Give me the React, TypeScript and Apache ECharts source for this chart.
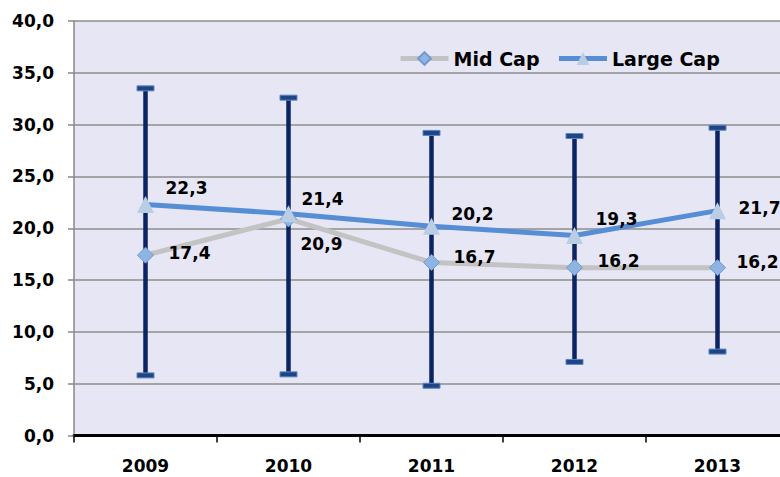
import React, { useEffect, useRef } from "react";
import * as echarts from "echarts";

const years = ["2009", "2010", "2011", "2012", "2013"];
const midCap = [17.4, 20.9, 16.7, 16.2, 16.2];
const largeCap = [22.3, 21.4, 20.2, 19.3, 21.7];
const rangeHigh = [33.5, 32.6, 29.2, 28.9, 29.7];
const rangeLow = [5.8, 5.9, 4.8, 7.1, 8.1];

// label placement offsets (layout only)
const largeLabelOffsets = [[41, -16], [34, -15], [41, -12], [42, -17], [42, -3]];
const midLabelOffsets = [[44, -2], [33, 25], [43, -5], [44, -7], [40, -6]];

const FONT = "'DejaVu Sans', sans-serif";
const fmt = (v: number) => v.toFixed(1).replace(".", ",");

export default function App() {
  const ref = useRef<HTMLDivElement>(null);
  useEffect(() => {
    if (!ref.current) return;
    const chart = echarts.init(ref.current, null, { renderer: "svg" });
    const labelStyle = {
      show: true,
      position: "inside",
      fontFamily: FONT,
      fontWeight: "bold",
      fontSize: 17,
      color: "#000",
      formatter: (p: any) => fmt(p.value),
    };
    chart.setOption({
      animation: false,
      backgroundColor: "#fff",
      textStyle: { fontFamily: FONT },
      legend: {
        data: ["Mid Cap", "Large Cap"],
        left: 398,
        top: 49,
        padding: 0,
        itemWidth: 48,
        itemHeight: 16,
        itemGap: 17,
        lineStyle: { width: 5 },
        textStyle: { fontFamily: FONT, fontWeight: "bold", fontSize: 19, color: "#000" },
      },
      grid: {
        left: 74,
        top: 21,
        width: 715,
        bottom: 41.5,
        show: true,
        backgroundColor: "#E7E6F4",
        borderWidth: 0,
        outerBoundsMode: "none",
        containLabel: false,
      },
      xAxis: {
        type: "category",
        data: years,
        boundaryGap: true,
        axisLine: { lineStyle: { color: "#000", width: 3 } },
        axisTick: { show: true, length: 7, interval: 0, lineStyle: { color: "#000", width: 1.5 } },
        axisLabel: { margin: 22, fontFamily: FONT, fontWeight: "bold", fontSize: 17, color: "#000" },
      },
      yAxis: {
        type: "value",
        min: 0,
        max: 40,
        interval: 5,
        axisLine: { show: true, lineStyle: { color: "#888", width: 1.5 } },
        axisTick: { show: true, length: 6, lineStyle: { color: "#888", width: 1.5 } },
        splitLine: { lineStyle: { color: "#8e8e8e", width: 1.5 } },
        axisLabel: {
          margin: 20,
          fontFamily: FONT,
          fontWeight: "bold",
          fontSize: 17,
          color: "#000",
          formatter: (v: number) => fmt(v),
        },
      },
      series: [
        {
          type: "custom",
          z: 1,
          data: years.map((_, i) => [i, rangeLow[i], rangeHigh[i]]),
          renderItem: (params: any, api: any) => {
            const x = api.value(0);
            const lo = api.coord([x, api.value(1)]);
            const hi = api.coord([x, api.value(2)]);
            const capW = 17;
            const capH = 5;
            return {
              type: "group",
              children: [
                {
                  type: "line",
                  shape: { x1: lo[0], y1: lo[1], x2: hi[0], y2: hi[1] },
                  style: { stroke: "#0B2362", lineWidth: 4.5 },
                },
                {
                  type: "rect",
                  shape: { x: hi[0] - capW / 2, y: hi[1] - capH / 2, width: capW, height: capH },
                  style: { fill: "#1D4585", stroke: "#5C86C2", lineWidth: 1 },
                },
                {
                  type: "rect",
                  shape: { x: lo[0] - capW / 2, y: lo[1] - capH / 2, width: capW, height: capH },
                  style: { fill: "#1D4585", stroke: "#5C86C2", lineWidth: 1 },
                },
              ],
            };
          },
        },
        {
          name: "Mid Cap",
          type: "line",
          z: 3,
          data: midCap.map((v, i) => ({ value: v, label: { offset: midLabelOffsets[i] } })),
          symbol: "diamond",
          symbolSize: 16,
          lineStyle: { color: "#C3C3C3", width: 5 },
          itemStyle: { color: "#8DB4E2", borderColor: "#7099D0", borderWidth: 1 },
          label: labelStyle,
        },
        {
          name: "Large Cap",
          type: "line",
          z: 4,
          data: largeCap.map((v, i) => ({ value: v, label: { offset: largeLabelOffsets[i] } })),
          symbol: "triangle",
          symbolSize: 17,
          lineStyle: { color: "#558ED5", width: 5 },
          itemStyle: { color: "#B9CDE5", borderColor: "#B9CDE5", borderWidth: 0 },
          label: labelStyle,
        },
      ],
    });
    return () => chart.dispose();
  }, []);
  return <div ref={ref} style={{ width: 780, height: 477, position: "absolute", left: 0, top: 0 }} />;
}
